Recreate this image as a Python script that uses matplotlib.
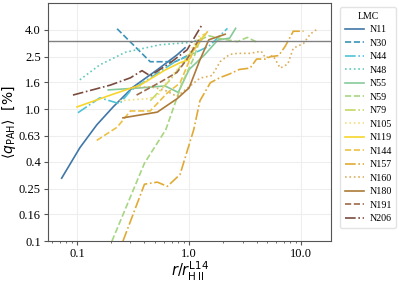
import numpy as np
import matplotlib.pyplot as plt
from matplotlib.ticker import FixedLocator, NullLocator, NullFormatter

plt.rcParams['font.family'] = ['Liberation Serif', 'DejaVu Serif']
plt.rcParams['mathtext.fontset'] = 'dejavusans'

# regions of the LMC
names = ['N11', 'N30', 'N44', 'N48', 'N55', 'N59', 'N79', 'N105',
         'N119', 'N144', 'N157', 'N160', 'N180', 'N191', 'N206']

colors = ['#3f77a8', '#3b93b8', '#4fc3d6', '#5fcbb8', '#86c99a', '#a6d681',
          '#c7d765', '#f1e07e', '#f7d52c', '#ecc144', '#e0aa34', '#dcae5e',
          '#ad7a38', '#9c6a4c', '#7a4b3e']
styles = ['-', '--', '-.', ':'] * 4

# radial profiles: r / r_HII and <q_PAH> [%]
r_N11 = [0.073, 0.106, 0.15, 0.21, 0.316, 0.52, 0.78, 0.92]
q_N11 = [0.30, 0.51, 0.76, 1.04, 1.47, 1.99, 2.58, 2.92]

r_N30 = [0.228, 0.45, 0.75, 1.0]
q_N30 = [4.07, 2.29, 2.29, 2.58]

r_N44 = [0.102, 0.16, 0.24, 0.30, 0.75, 1.0, 1.5, 2.2]
q_N44 = [0.94, 1.22, 1.10, 1.38, 2.29, 2.55, 3.0, 4.1]

r_N48 = [0.106, 0.16, 0.27, 0.55, 1.0, 1.2]
q_N48 = [1.67, 2.17, 2.70, 3.08, 3.20, 3.35]

r_N55 = [0.19, 0.365, 0.61, 0.80, 1.0, 1.38, 1.8, 2.3, 2.6]
q_N55 = [1.40, 1.45, 1.50, 1.34, 2.0, 2.59, 3.34, 3.46, 4.1]

r_N59 = [0.205, 0.40, 0.62, 0.86, 1.1, 1.25, 1.5, 2.0, 2.7, 3.3, 4.1]
q_N59 = [0.10, 0.39, 0.70, 1.55, 2.45, 3.35, 3.6, 3.4, 3.25, 3.5, 3.2]

r_N79 = [0.45, 0.68, 1.0, 1.38]
q_N79 = [1.16, 1.67, 2.58, 3.8]

r_N105 = [0.24, 0.42, 0.52, 0.61, 0.92, 1.25]
q_N105 = [1.16, 1.20, 1.25, 1.54, 2.37, 3.66]

r_N119 = [0.10, 0.21, 0.365, 0.61, 0.83, 1.0, 1.1, 1.38]
q_N119 = [1.04, 1.30, 1.52, 1.98, 2.25, 2.37, 2.82, 3.70]

r_N144 = [0.15, 0.228, 0.30, 0.45, 0.64, 0.83, 1.1, 1.5]
q_N144 = [0.58, 0.73, 0.97, 0.97, 1.33, 1.58, 2.8, 4.0]

r_N157 = [0.257, 0.40, 0.52, 0.64, 0.83, 0.96, 1.1, 1.25, 1.55, 1.9,
          2.3, 2.8, 3.5, 4.0, 4.8, 5.3, 6.3, 7.2, 8.5, 9.5, 10.5]
q_N157 = [0.10, 0.27, 0.28, 0.26, 0.32, 0.48, 0.70, 1.16, 1.59, 1.74,
          1.85, 2.0, 2.05, 2.4, 2.4, 2.5, 2.55, 3.0, 3.9, 3.9, 3.9]

r_N160 = [0.30, 0.45, 0.60, 0.78, 1.25, 1.6, 1.9, 2.3, 2.7, 3.5, 4.4,
          4.8, 5.6, 6.5, 7.6, 8.5, 10.5, 12.0, 13.9]
q_N160 = [1.45, 1.48, 1.40, 1.25, 1.72, 1.80, 2.3, 2.6, 2.65, 2.65, 2.75,
          2.45, 2.55, 2.05, 2.2, 2.9, 3.15, 3.7, 4.05]

r_N180 = [0.257, 0.52, 0.78, 1.0, 1.25, 1.5, 2.1]
q_N180 = [0.86, 0.95, 1.20, 1.45, 2.37, 3.36, 3.70]

r_N191 = [0.34, 0.55, 0.78, 0.96, 1.25]
q_N191 = [1.28, 1.60, 1.90, 2.40, 3.48]

r_N206 = [0.092, 0.197, 0.30, 0.38, 0.45, 0.68, 0.96, 1.3]
q_N206 = [1.28, 1.52, 1.73, 1.96, 1.79, 2.25, 2.82, 4.35]

radii = [r_N11, r_N30, r_N44, r_N48, r_N55, r_N59, r_N79, r_N105,
         r_N119, r_N144, r_N157, r_N160, r_N180, r_N191, r_N206]
qpah = [q_N11, q_N30, q_N44, q_N48, q_N55, q_N59, q_N79, q_N105,
        q_N119, q_N144, q_N157, q_N160, q_N180, q_N191, q_N206]

q_ref = 3.3
yticks = [0.1, 0.16, 0.25, 0.4, 0.63, 1.0, 1.6, 2.5, 4.0]
xticks = [0.1, 1.0, 10.0]

fig = plt.figure(figsize=(3.99, 2.84), dpi=100)
ax = fig.add_axes([0.12, 0.151, 0.71, 0.839])

for i in range(len(names)):
    ax.plot(radii[i], qpah[i], color=colors[i], ls=styles[i], lw=1.2,
            label=names[i])

ax.axhline(q_ref, color='grey', lw=1)

ax.set_xscale('log')
ax.set_yscale('log')
ax.set_xlim(0.055, 18.5)
ax.set_ylim(0.1, 6.4)

ax.yaxis.set_major_locator(FixedLocator(yticks))
ax.yaxis.set_minor_locator(NullLocator())
ax.yaxis.set_minor_formatter(NullFormatter())
ax.set_yticklabels([str(t) for t in yticks])
ax.xaxis.set_major_locator(FixedLocator(xticks))
ax.set_xticklabels([str(t) for t in xticks])
ax.tick_params(labelsize=9, length=3, color='#555555', pad=2)
ax.tick_params(which='minor', length=1.5, color='#555555')

ax.grid(True, color='#eeeeee', lw=0.8)
ax.set_axisbelow(True)
for s in ax.spines.values():
    s.set_color('#555555')

ax.set_xlabel(r'$r/r^{\rm L14}_{\rm H\,II}$', fontsize=10.5, labelpad=0)
ax.set_ylabel(r'$\langle q_{\rm PAH}\rangle\ \ [\%]$', fontsize=10,
              labelpad=0.5)

leg = ax.legend(title='LMC', loc='upper left', bbox_to_anchor=(1.025, 0.99),
                fontsize=7.2, title_fontsize=7, handlelength=1.9,
                handletextpad=0.55, labelspacing=0.45, borderpad=0.45,
                borderaxespad=0.2, edgecolor='#dddddd')

fig.savefig('out.png', dpi=100)
